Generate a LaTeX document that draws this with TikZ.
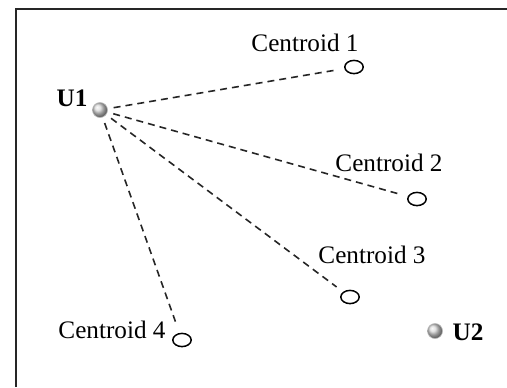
\documentclass[tikz,border=0pt]{standalone}
\usepackage{fontspec}
\setmainfont{Liberation Serif}
\usetikzlibrary{shapes.geometric}
\begin{document}
\begin{tikzpicture}[x=0.5pt,y=-0.5pt,
  lbl/.style={font=\fontsize{12.6}{15}\selectfont, inner sep=0pt},
  blbl/.style={lbl, font=\fontsize{12.6}{15}\selectfont\bfseries},
  cent/.style={draw, ellipse, line width=0.75pt, minimum width=9.2pt, minimum height=6.6pt, inner sep=0pt, fill=white},
  user/.style={circle, inner sep=0pt, minimum size=7.5pt, shading=ball, ball color=gray!30, draw=gray!55, line width=0.3pt},
  link/.style={dash pattern=on 3.5pt off 2.5pt, line width=0.8pt, draw=black!85}]
\useasboundingbox (0,0) rectangle (507,387);
\draw[line width=1pt, gray!30!black] (16,387) -- (16,9) -- (507,9);
\node[user] (u1) at (100,110) {};
\node[blbl] (u1l) at (72,98) {U1};
\node[user] (u2) at (435,331) {};
\node[blbl] (u2l) at (468,332) {U2};
\node[cent] (c1) at (354,67) {};
\node[cent] (c2) at (417,199) {};
\node[cent] (c3) at (350,297) {};
\node[cent] (c4) at (182,340) {};
\node[lbl] (c1l) at (305,43) {Centroid 1};
\node[lbl] (c2l) at (389,163) {Centroid 2};
\node[lbl] (c3l) at (372,255) {Centroid 3};
\node[lbl] (c4l) at (112,330) {Centroid 4};
\draw[link, shorten <=3pt, shorten >=4pt] (u1) -- (c1);
\draw[link, shorten <=3pt, shorten >=4pt] (u1) -- (c2);
\draw[link, shorten <=3pt, shorten >=4pt] (u1) -- (c3);
\draw[link, shorten <=3pt, shorten >=6pt] (u1) -- (c4);
\end{tikzpicture}
\end{document}
